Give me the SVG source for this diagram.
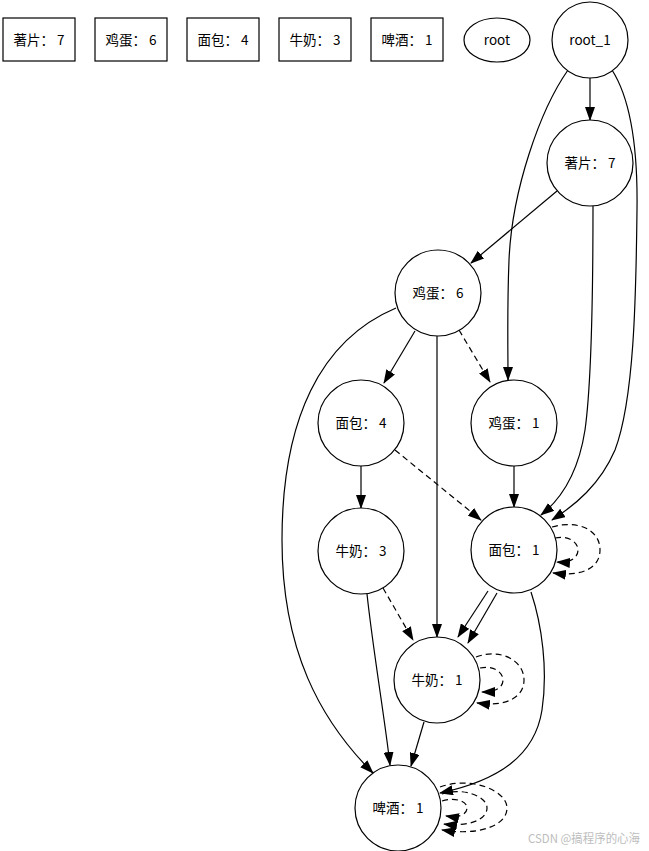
<svg xmlns="http://www.w3.org/2000/svg" width="649" height="851" viewBox="0 0 649 851">
<style>
.n{fill:#fff;stroke:#000;stroke-width:1.2}
.t{font-family:"Noto Sans CJK SC","Noto Sans",sans-serif;font-size:13.5px;fill:#000;text-anchor:middle}
.e{fill:none;stroke:#000;stroke-width:1.2;marker-end:url(#ah)}
.d{stroke-dasharray:6,4}
.wm{font-family:"Noto Sans CJK SC","Noto Sans",sans-serif;font-size:12px;fill:#bdbdbd}
</style>
<defs>
<marker id="ah" markerUnits="userSpaceOnUse" markerWidth="14" markerHeight="10" viewBox="0 0 14 10" refX="13" refY="5" orient="auto">
<path d="M0,0 L14,5 L0,10 z" fill="#000"/>
</marker>
</defs>
<rect width="649" height="851" fill="#fff"/>
<g id="legend">
<g id="box_shupian"><rect class="n" x="3" y="18" width="72" height="43"/><text class="t" x="39" y="45">著片： 7</text></g>
<g id="box_jidan"><rect class="n" x="95" y="18" width="72" height="43"/><text class="t" x="131" y="45">鸡蛋： 6</text></g>
<g id="box_mianbao"><rect class="n" x="187" y="18" width="72" height="43"/><text class="t" x="223" y="45">面包： 4</text></g>
<g id="box_niunai"><rect class="n" x="279" y="18" width="72" height="43"/><text class="t" x="315" y="45">牛奶： 3</text></g>
<g id="box_pijiu"><rect class="n" x="371" y="18" width="72" height="43"/><text class="t" x="407" y="45">啤酒： 1</text></g>
<g id="root"><ellipse class="n" cx="497" cy="40" rx="33" ry="22"/><text class="t" x="497" y="45">root</text></g>
</g>
<g id="connectors">
<path class="e" d="M590,78 L590,120"/>
<path class="e" d="M568,70 C540,110 512,190 509,260 C507,310 508,345 508,380"/>
<path class="e" d="M612,70 C628,95 638,140 637,210 C636,300 634,400 615,450 C600,485 575,505 552,520"/>
<path class="e" d="M557,191 L471,263"/>
<path class="e" d="M593,206 C593,280 592,380 585,430 C578,475 560,500 541,515"/>
<path class="e" d="M415,331 L384,383"/>
<path class="e" d="M437,336 L437,637"/>
<path class="e d" d="M459,330 L490,382"/>
<path class="e" d="M396,308 C320,340 282,420 282,540 C282,650 320,720 373,773"/>
<path class="e" d="M361,466 L361,508"/>
<path class="e d" d="M395,450 L481,520"/>
<path class="e" d="M514,466 L514,507"/>
<path class="e" d="M367,594 C373,650 385,720 390,765"/>
<path class="e d" d="M383,588 L413,640"/>
<path class="e" d="M488,591 L458,637"/>
<path class="e" d="M497,593 L468,643"/>
<path class="e" d="M531,592 C542,625 548,670 542,710 C535,755 500,780 440,793"/>
<path class="e" d="M424,722 L411,766"/>
<path class="e d" d="M552,527 C575,520 600,528 600,550 C600,568 582,577 553,573"/>
<path class="e d" d="M555,538 C568,535 578,542 578,550 C578,558 570,563 557,562"/>
<path class="e d" d="M476,657 C500,648 524,660 524,680 C524,698 505,707 477,703"/>
<path class="e d" d="M480,668 C493,665 503,672 503,680 C503,688 495,692 482,692"/>
<path class="e d" d="M440,787 C470,776 507,790 507,808 C507,826 478,836 442,830"/>
<path class="e d" d="M442,794 C462,787 487,796 487,808 C487,820 468,827 444,824"/>
<path class="e d" d="M442,801 C455,797 467,801 467,808 C467,815 458,818 446,816"/>
</g>
<g id="root_1"><circle class="n" cx="590" cy="40" r="38"/><text class="t" x="590" y="45">root_1</text></g>
<g id="shupian7"><circle class="n" cx="590" cy="163" r="43"/><text class="t" x="590" y="168">著片： 7</text></g>
<g id="jidan6"><circle class="n" cx="438" cy="293" r="43"/><text class="t" x="438" y="298">鸡蛋： 6</text></g>
<g id="mianbao4"><circle class="n" cx="361" cy="423" r="43"/><text class="t" x="361" y="428">面包： 4</text></g>
<g id="jidan1"><circle class="n" cx="514" cy="423" r="43"/><text class="t" x="514" y="428">鸡蛋： 1</text></g>
<g id="niunai3"><circle class="n" cx="361" cy="551" r="43"/><text class="t" x="361" y="556">牛奶： 3</text></g>
<g id="mianbao1"><circle class="n" cx="514" cy="550" r="43"/><text class="t" x="514" y="555">面包： 1</text></g>
<g id="niunai1"><circle class="n" cx="437" cy="680" r="43"/><text class="t" x="437" y="685">牛奶： 1</text></g>
<g id="pijiu1"><circle class="n" cx="398" cy="808" r="43"/><text class="t" x="398" y="813">啤酒： 1</text></g>
<text class="wm" x="528" y="843" textLength="112" lengthAdjust="spacingAndGlyphs">CSDN @搞程序的心海</text>
</svg>
